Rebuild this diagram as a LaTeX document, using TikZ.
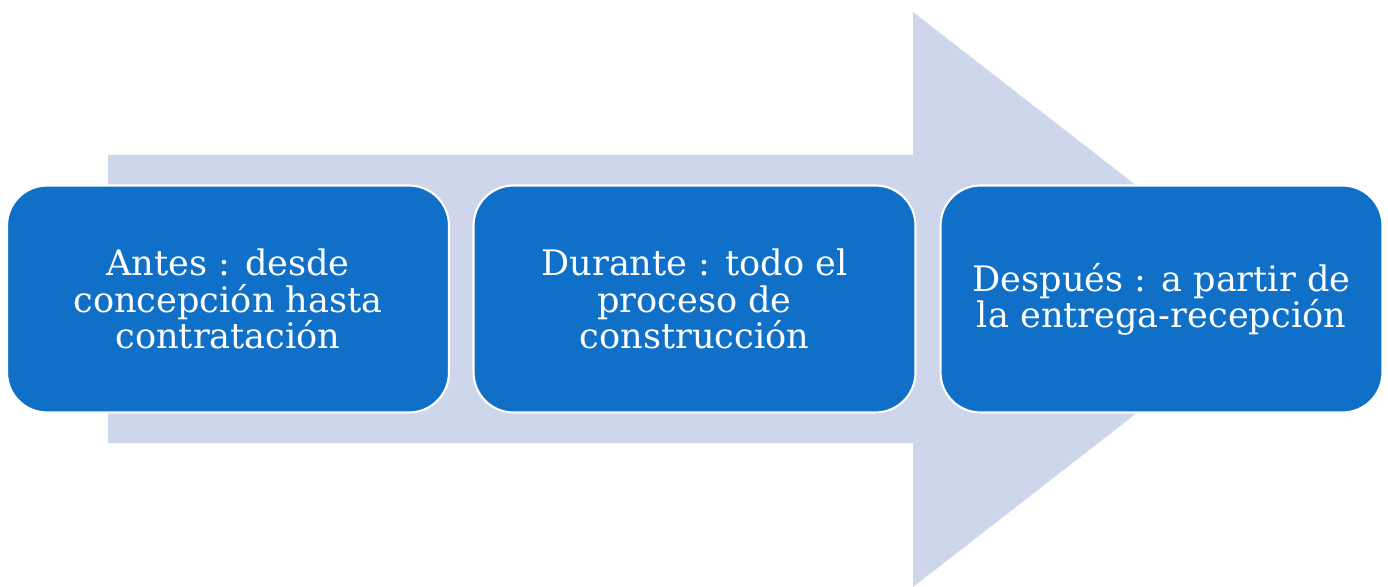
\documentclass[tikz,border=0pt]{standalone}
\usepackage{fontspec}
\setmainfont{DejaVu Serif}
\usepackage{tikz}

\definecolor{arrowgray}{HTML}{CDD6EA}
\definecolor{boxblue}{HTML}{1070C8}

\begin{document}
\begin{tikzpicture}[x=0.02cm,y=-0.02cm]
        \tikzset{stage/.style={draw=white, line width=1.2pt, fill=boxblue, rounded corners=0.8cm,
                minimum width=8.84cm, minimum height=4.54cm, text=white, align=center,
                font=\fontsize{20}{20.6}\selectfont}}
        \useasboundingbox (0,0) rectangle (1388,587);
        \fill [arrowgray] (108,155) -- (913,155) -- (913,12) -- (1283,299.5) -- (913,587) -- (913,443) -- (108,443) -- cycle;
        \node [stage] (antes) at (228,299) {Antes : desde\\concepción hasta\\contratación};
        \node [stage] (durante) at (694.5,299) {Durante : todo el\\proceso de\\construcción};
        \node [stage] (despues) at (1161.5,299) {Después : a partir de\\la entrega-recepción};
\end{tikzpicture}
\end{document}
